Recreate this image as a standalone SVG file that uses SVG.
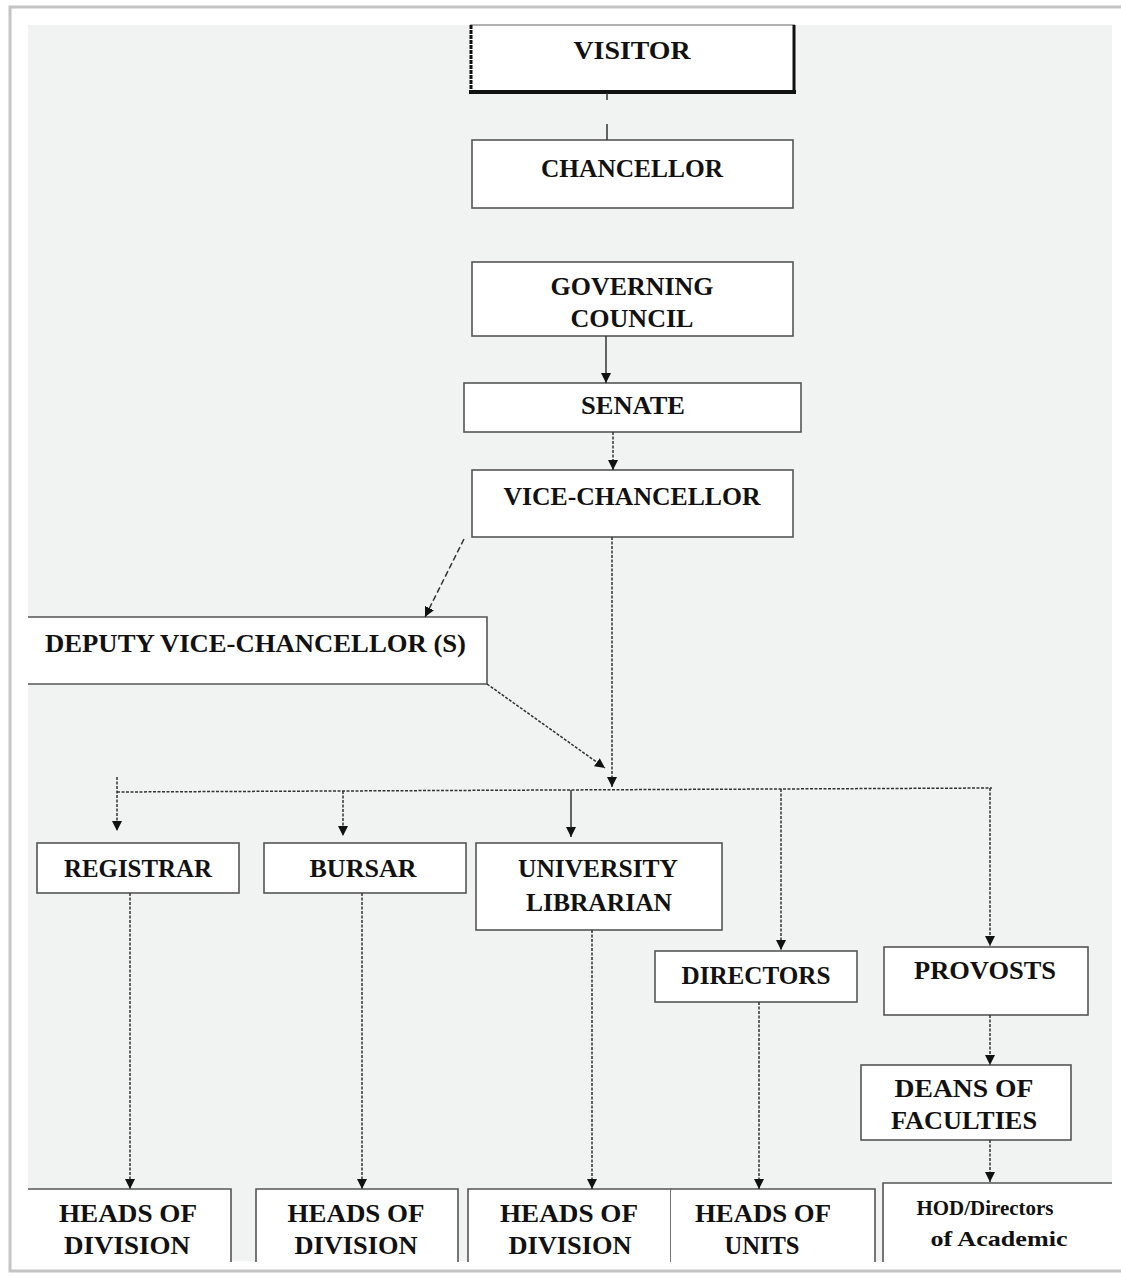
<svg xmlns="http://www.w3.org/2000/svg" width="1121" height="1277" viewBox="0 0 1121 1277">
<defs>
<marker id="ah" viewBox="0 0 10 10" markerWidth="10" markerHeight="10" refX="10" refY="5" orient="auto" markerUnits="userSpaceOnUse">
<path d="M0,0 L10,5 L0,10 z" fill="#111"/>
</marker>
</defs>
<style>
.box{fill:#fff;stroke:#555;stroke-width:1.6}
.edge{fill:none;stroke:#555;stroke-width:1.6}
.t{font-family:"Liberation Serif","Times New Roman",serif;font-weight:bold;font-size:25px;fill:#111;text-anchor:middle}
.s{font-size:22px}
.c{fill:none;stroke:#333;stroke-width:1.5}
.d{stroke-dasharray:3 1.5}
.dd{stroke-dasharray:6 3}
</style>
<rect x="0" y="0" width="1121" height="1277" fill="#fff"/>
<rect x="10" y="7" width="1130" height="1264" fill="#fff" stroke="#c4c4c4" stroke-width="3"/>
<rect x="28" y="25" width="1084" height="1236" fill="#f1f2f2"/>

<g id="visitor">
<rect x="470" y="25" width="325" height="67" fill="#fff"/>
<line x1="470" y1="25" x2="795" y2="25" stroke="#999" stroke-width="1.5"/>
<line x1="471" y1="25" x2="471" y2="92" stroke="#111" stroke-width="3" stroke-dasharray="4 1"/>
<line x1="794" y1="25" x2="794" y2="92" stroke="#111" stroke-width="3"/>
<line x1="469" y1="92" x2="796" y2="92" stroke="#111" stroke-width="4"/>
<text class="t" x="632" y="59" textLength="117" lengthAdjust="spacingAndGlyphs">VISITOR</text>
</g>
<g id="chancellor">
<rect class="box" x="472" y="140" width="321" height="68"/>
<text class="t" x="632" y="177" textLength="182" lengthAdjust="spacingAndGlyphs">CHANCELLOR</text>
</g>
<g id="governing-council">
<rect class="box" x="472" y="262" width="321" height="74"/>
<text class="t" x="632" y="295" textLength="163" lengthAdjust="spacingAndGlyphs">GOVERNING</text>
<text class="t" x="632" y="327" textLength="123" lengthAdjust="spacingAndGlyphs">COUNCIL</text>
</g>
<g id="senate">
<rect class="box" x="464" y="383" width="337" height="49"/>
<text class="t" x="633" y="414" textLength="104" lengthAdjust="spacingAndGlyphs">SENATE</text>
</g>
<g id="vice-chancellor">
<rect class="box" x="472" y="470" width="321" height="67"/>
<text class="t" x="632" y="505" textLength="257" lengthAdjust="spacingAndGlyphs">VICE-CHANCELLOR</text>
</g>
<g id="deputy-vc">
<rect x="28" y="617" width="459" height="67" fill="#fff"/>
<path class="edge" d="M28,617 H487 V684 H28"/>
<text class="t" x="45" y="652" style="text-anchor:start" textLength="421" lengthAdjust="spacingAndGlyphs">DEPUTY VICE-CHANCELLOR (S)</text>
</g>
<g id="registrar">
<rect class="box" x="37" y="843" width="202" height="50"/>
<text class="t" x="138" y="877" textLength="148" lengthAdjust="spacingAndGlyphs">REGISTRAR</text>
</g>
<g id="bursar">
<rect class="box" x="264" y="843" width="202" height="50"/>
<text class="t" x="363" y="877" textLength="107" lengthAdjust="spacingAndGlyphs">BURSAR</text>
</g>
<g id="university-librarian">
<rect class="box" x="476" y="843" width="246" height="87"/>
<text class="t" x="598" y="877" textLength="160" lengthAdjust="spacingAndGlyphs">UNIVERSITY</text>
<text class="t" x="599" y="911" textLength="146" lengthAdjust="spacingAndGlyphs">LIBRARIAN</text>
</g>
<g id="directors">
<rect class="box" x="655" y="951" width="202" height="51"/>
<text class="t" x="756" y="984" textLength="149" lengthAdjust="spacingAndGlyphs">DIRECTORS</text>
</g>
<g id="provosts">
<rect class="box" x="884" y="947" width="204" height="68"/>
<text class="t" x="985" y="979" textLength="142" lengthAdjust="spacingAndGlyphs">PROVOSTS</text>
</g>
<g id="deans">
<rect class="box" x="861" y="1065" width="210" height="75"/>
<text class="t" x="964" y="1097" textLength="139" lengthAdjust="spacingAndGlyphs">DEANS OF</text>
<text class="t" x="964" y="1129" textLength="146" lengthAdjust="spacingAndGlyphs">FACULTIES</text>
</g>
<g id="heads-division-1">
<rect x="28" y="1189" width="203" height="73" fill="#fff"/>
<path class="edge" d="M28,1189 H231 V1262"/>
<text class="t" x="128" y="1222" textLength="138" lengthAdjust="spacingAndGlyphs">HEADS OF</text>
<text class="t" x="127" y="1254" textLength="126" lengthAdjust="spacingAndGlyphs">DIVISION</text>
</g>
<g id="heads-division-2">
<rect x="256" y="1189" width="202" height="73" fill="#fff"/>
<path class="edge" d="M256,1262 V1189 H458 V1262"/>
<text class="t" x="356" y="1222" textLength="137" lengthAdjust="spacingAndGlyphs">HEADS OF</text>
<text class="t" x="356" y="1254" textLength="123" lengthAdjust="spacingAndGlyphs">DIVISION</text>
</g>
<g id="heads-division-3">
<rect x="468" y="1189" width="203" height="73" fill="#fff"/>
<path class="edge" d="M468,1262 V1189 H671 V1262"/>
<text class="t" x="569" y="1222" textLength="138" lengthAdjust="spacingAndGlyphs">HEADS OF</text>
<text class="t" x="570" y="1254" textLength="123" lengthAdjust="spacingAndGlyphs">DIVISION</text>
</g>
<g id="heads-units">
<rect x="671" y="1189" width="204" height="73" fill="#fff"/>
<path class="edge" d="M671,1189 H875 V1262"/>
<text class="t" x="763" y="1222" textLength="136" lengthAdjust="spacingAndGlyphs">HEADS OF</text>
<text class="t" x="762" y="1254" textLength="75" lengthAdjust="spacingAndGlyphs">UNITS</text>
</g>
<g id="hod-directors">
<rect x="883" y="1183" width="238" height="79" fill="#fff"/>
<path class="edge" d="M883,1262 V1183 H1112"/>
<text class="t s" x="985" y="1215" textLength="137" lengthAdjust="spacingAndGlyphs">HOD/Directors</text>
<text class="t s" x="999" y="1246" textLength="137" lengthAdjust="spacingAndGlyphs">of Academic</text>
</g>

<g id="connectors">
<line class="c" x1="607" y1="93" x2="607" y2="100"/>
<line class="c" x1="607" y1="124" x2="607" y2="140"/>
<line class="c" x1="606" y1="336" x2="606" y2="383" marker-end="url(#ah)"/>
<line class="c d" x1="613" y1="432" x2="613" y2="470" marker-end="url(#ah)"/>
<line class="c dd" x1="464" y1="539" x2="425" y2="617" marker-end="url(#ah)"/>
<line class="c d" x1="612" y1="537" x2="612" y2="787" marker-end="url(#ah)"/>
<line class="c d" x1="487" y1="684" x2="605" y2="768" marker-end="url(#ah)"/>
<path class="c d" d="M117,792 L992,788"/>
<line class="c d" x1="117" y1="777" x2="117" y2="831" marker-end="url(#ah)"/>
<line class="c d" x1="343" y1="791" x2="343" y2="836" marker-end="url(#ah)"/>
<line class="c" x1="571" y1="790" x2="571" y2="837" marker-end="url(#ah)"/>
<line class="c d" x1="781" y1="789" x2="781" y2="950" marker-end="url(#ah)"/>
<line class="c d" x1="990" y1="788" x2="990" y2="946" marker-end="url(#ah)"/>
<line class="c d" x1="130" y1="893" x2="130" y2="1189" marker-end="url(#ah)"/>
<line class="c d" x1="362" y1="893" x2="362" y2="1189" marker-end="url(#ah)"/>
<line class="c d" x1="592" y1="930" x2="592" y2="1189" marker-end="url(#ah)"/>
<line class="c d" x1="759" y1="1002" x2="759" y2="1189" marker-end="url(#ah)"/>
<line class="c d" x1="990" y1="1015" x2="990" y2="1065" marker-end="url(#ah)"/>
<line class="c d" x1="990" y1="1140" x2="990" y2="1182" marker-end="url(#ah)"/>
</g>
</svg>
